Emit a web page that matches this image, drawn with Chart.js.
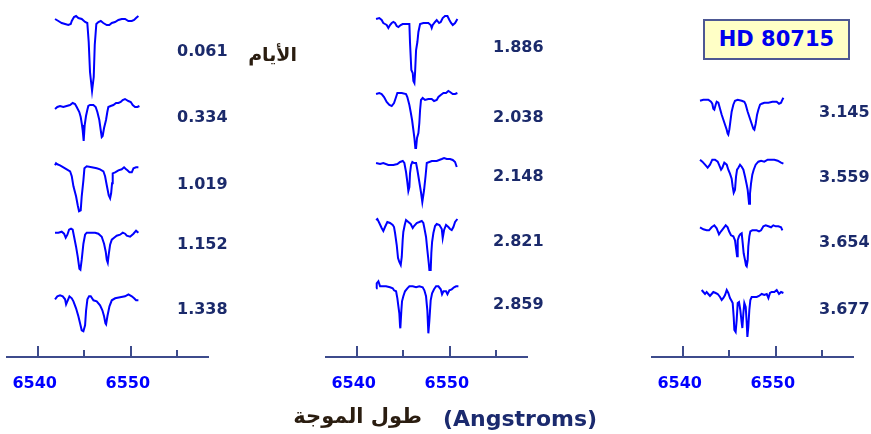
<!DOCTYPE html>
<html>
<head>
<meta charset="utf-8">
<script src="https://cdn.jsdelivr.net/npm/chart.js@4"></script>
<style>
    html, body { margin: 0; padding: 0; background: #fff; }
    #wrap { position: relative; width: 871px; height: 434px; overflow: hidden; }
    canvas { position: absolute; top: 0; }
    #star {
        position: absolute; left: 703px; top: 19px; width: 143px; height: 37px;
        border: 2px solid #4d5893; background: #ffffc6; color: #0000ee;
        font: bold 21px "DejaVu Sans"; text-align: center; line-height: 37px;
    }
    .ar { position: absolute; font-family: "DejaVu Sans"; font-weight: bold; color: #2a1d10; direction: rtl; white-space: nowrap; }
    #days { right: 574px; top: 40px; font-size: 19px; line-height: 28px; }
    #waveAr { right: 449px; top: 402px; font-size: 21px; line-height: 28px; }
    #waveEn { position: absolute; left: 443px; top: 408px; font: bold 22px/22px "DejaVu Sans"; color: #1b2a6e; white-space: nowrap; }
</style>
</head>
<body>
<div id="wrap">
    <canvas id="p1" width="310" height="434" style="left:0px"></canvas>
    <canvas id="p2" width="320" height="434" style="left:310px"></canvas>
    <canvas id="p3" width="241" height="434" style="left:630px"></canvas>
    <div id="star">HD 80715</div>
    <div class="ar" id="days">الأيام</div>
    <div class="ar" id="waveAr">طول الموجة</div>
    <div id="waveEn">(Angstroms)</div>
</div>
<script>
// wavelength (Angstrom), relative flux (continuum = 1)
const s0061 = [[6541.86,1.01],[6542.22,0.99],[6542.58,0.97],[6542.94,0.96],[6543.29,0.95],[6543.55,0.96],[6543.66,0.99],[6543.90,1.03],[6544.12,1.04],[6544.37,1.02],[6544.73,1.01],[6545.09,0.98],[6545.33,0.97],[6545.48,0.78],[6545.62,0.48],[6545.84,0.29],[6546.02,0.43],[6546.13,0.75],[6546.30,0.96],[6546.52,0.98],[6546.78,0.99],[6547.05,0.97],[6547.42,0.95],[6547.70,0.95],[6547.96,0.97],[6548.31,0.98],[6548.67,1.00],[6549.03,1.01],[6549.39,1.01],[6549.74,0.99],[6550.11,0.99],[6550.36,1.00],[6550.57,1.02],[6550.82,1.04]];
const s0334 = [[6541.86,0.97],[6542.11,0.99],[6542.40,1.00],[6542.75,0.99],[6543.11,1.00],[6543.47,1.01],[6543.76,1.03],[6544.01,1.02],[6544.19,0.99],[6544.47,0.94],[6544.62,0.89],[6544.76,0.81],[6544.83,0.76],[6544.94,0.65],[6545.05,0.81],[6545.19,0.90],[6545.33,0.96],[6545.44,1.00],[6545.62,1.01],[6545.98,1.01],[6546.23,0.99],[6546.41,0.94],[6546.62,0.86],[6546.77,0.76],[6546.88,0.69],[6546.98,0.70],[6547.13,0.78],[6547.34,0.86],[6547.48,0.94],[6547.59,0.99],[6547.84,1.00],[6548.13,1.01],[6548.42,1.03],[6548.67,1.03],[6548.92,1.04],[6549.13,1.06],[6549.38,1.07],[6549.74,1.05],[6550.00,1.04],[6550.21,1.01],[6550.46,0.99],[6550.71,0.99],[6550.93,1.00]];
const s1019 = [[6541.86,1.02],[6541.97,1.04],[6542.11,1.03],[6542.40,1.02],[6542.76,1.00],[6543.12,0.98],[6543.48,0.96],[6543.66,0.91],[6543.84,0.81],[6544.12,0.71],[6544.30,0.62],[6544.44,0.56],[6544.62,0.57],[6544.73,0.71],[6544.91,0.87],[6545.02,0.99],[6545.27,1.01],[6545.81,1.00],[6546.34,0.99],[6546.70,0.98],[6547.06,0.96],[6547.24,0.91],[6547.42,0.82],[6547.63,0.72],[6547.78,0.69],[6547.89,0.74],[6547.99,0.84],[6548.06,0.94],[6548.32,0.95],[6548.67,0.97],[6549.03,0.98],[6549.28,1.00],[6549.50,0.98],[6549.64,0.97],[6549.86,0.95],[6550.11,0.95],[6550.29,0.99],[6550.57,1.00],[6550.82,1.00]];
const s1152 = [[6541.86,1.00],[6542.22,1.00],[6542.58,1.01],[6542.83,0.99],[6543.01,0.95],[6543.19,0.98],[6543.37,1.03],[6543.58,1.04],[6543.76,1.03],[6543.91,0.96],[6544.12,0.86],[6544.30,0.76],[6544.48,0.64],[6544.59,0.63],[6544.73,0.73],[6544.91,0.89],[6545.09,0.98],[6545.27,1.00],[6545.63,1.00],[6546.17,1.00],[6546.52,0.99],[6546.88,0.96],[6547.13,0.89],[6547.31,0.81],[6547.42,0.73],[6547.53,0.70],[6547.63,0.78],[6547.78,0.88],[6547.96,0.93],[6548.21,0.95],[6548.49,0.97],[6548.85,0.98],[6549.14,1.00],[6549.39,0.99],[6549.57,0.97],[6549.93,0.96],[6550.29,0.99],[6550.57,1.02],[6550.82,1.00]];
const s1338 = [[6541.86,0.99],[6542.11,1.02],[6542.40,1.03],[6542.69,1.02],[6542.94,0.99],[6543.05,0.94],[6543.23,0.98],[6543.41,1.02],[6543.66,1.00],[6543.84,0.97],[6544.12,0.90],[6544.37,0.82],[6544.55,0.75],[6544.73,0.68],[6544.91,0.67],[6545.09,0.73],[6545.20,0.88],[6545.34,0.99],[6545.52,1.02],[6545.70,1.02],[6545.99,0.98],[6546.34,0.97],[6546.70,0.93],[6546.95,0.88],[6547.13,0.82],[6547.28,0.75],[6547.35,0.74],[6547.49,0.82],[6547.71,0.92],[6547.96,0.98],[6548.32,1.00],[6548.85,1.01],[6549.39,1.02],[6549.75,1.04],[6550.11,1.02],[6550.36,1.00],[6550.57,0.98],[6550.82,0.98]];

const s1886 = [[6542.08,1.05],[6542.43,1.06],[6542.68,1.04],[6542.86,1.01],[6543.04,1.00],[6543.22,0.99],[6543.40,0.96],[6543.58,0.99],[6543.76,1.01],[6543.94,1.02],[6544.12,1.01],[6544.30,0.98],[6544.48,0.97],[6544.73,0.99],[6544.94,1.00],[6545.37,1.00],[6545.66,1.00],[6545.73,0.81],[6545.87,0.54],[6546.02,0.51],[6546.09,0.43],[6546.20,0.41],[6546.27,0.51],[6546.38,0.74],[6546.52,0.82],[6546.63,0.92],[6546.81,1.00],[6547.16,1.01],[6547.70,1.01],[6547.95,0.99],[6548.06,0.96],[6548.17,0.99],[6548.42,1.02],[6548.60,1.04],[6548.85,1.01],[6549.03,1.02],[6549.24,1.06],[6549.49,1.08],[6549.75,1.08],[6549.96,1.04],[6550.14,1.01],[6550.32,0.99],[6550.57,1.01],[6550.82,1.05]];
const s2038 = [[6542.08,1.00],[6542.43,1.01],[6542.68,1.00],[6542.94,0.97],[6543.22,0.92],[6543.51,0.89],[6543.76,0.88],[6544.01,0.91],[6544.23,0.97],[6544.37,1.01],[6544.84,1.01],[6545.30,1.00],[6545.44,0.97],[6545.66,0.89],[6545.80,0.82],[6545.95,0.74],[6546.09,0.64],[6546.20,0.56],[6546.30,0.46],[6546.38,0.46],[6546.48,0.56],[6546.63,0.61],[6546.73,0.71],[6546.81,0.84],[6546.91,0.94],[6547.09,0.96],[6547.34,0.94],[6547.70,0.95],[6548.06,0.95],[6548.31,0.93],[6548.60,0.94],[6548.78,0.97],[6549.03,0.99],[6549.32,1.01],[6549.60,1.01],[6549.85,1.03],[6550.03,1.02],[6550.32,1.00],[6550.57,1.00],[6550.82,1.01]];
const s2148 = [[6542.08,1.00],[6542.51,0.99],[6542.86,1.00],[6543.40,0.98],[6543.94,0.98],[6544.37,0.99],[6544.66,1.01],[6544.95,1.02],[6545.12,1.00],[6545.30,0.91],[6545.44,0.81],[6545.55,0.72],[6545.66,0.76],[6545.73,0.90],[6545.84,0.98],[6545.98,1.01],[6546.16,1.00],[6546.38,1.00],[6546.52,0.93],[6546.73,0.81],[6546.92,0.70],[6547.05,0.61],[6547.24,0.73],[6547.40,0.87],[6547.53,1.00],[6548.07,1.02],[6548.60,1.02],[6549.14,1.04],[6549.39,1.05],[6549.68,1.04],[6550.03,1.04],[6550.32,1.03],[6550.57,1.01],[6550.75,0.96]];
const s2821 = [[6542.08,1.04],[6542.22,1.05],[6542.43,1.01],[6542.68,0.96],[6542.86,0.93],[6543.04,0.97],[6543.29,1.02],[6543.58,1.01],[6543.87,0.99],[6544.01,0.97],[6544.12,0.91],[6544.30,0.79],[6544.44,0.66],[6544.58,0.62],[6544.73,0.59],[6544.84,0.67],[6544.94,0.84],[6545.01,0.92],[6545.16,0.99],[6545.30,1.04],[6545.55,1.02],[6545.80,1.00],[6546.02,0.96],[6546.16,0.98],[6546.45,1.01],[6546.73,1.02],[6546.99,1.03],[6547.16,1.01],[6547.27,0.96],[6547.45,0.87],[6547.59,0.74],[6547.74,0.61],[6547.81,0.54],[6547.95,0.54],[6548.02,0.71],[6548.10,0.82],[6548.24,0.91],[6548.42,0.98],[6548.60,1.00],[6548.89,0.99],[6549.14,0.95],[6549.24,0.86],[6549.39,0.94],[6549.60,0.99],[6549.85,0.97],[6550.03,0.95],[6550.21,0.94],[6550.39,0.97],[6550.57,1.02],[6550.82,1.05]];
const s2859 = [[6542.08,0.99],[6542.15,1.04],[6542.33,1.06],[6542.51,1.01],[6542.79,1.01],[6543.15,1.01],[6543.58,1.00],[6543.87,0.99],[6544.01,0.97],[6544.23,0.96],[6544.37,0.89],[6544.48,0.81],[6544.58,0.74],[6544.66,0.61],[6544.69,0.59],[6544.80,0.77],[6544.87,0.86],[6545.01,0.91],[6545.19,0.96],[6545.44,0.99],[6545.66,1.01],[6546.02,1.01],[6546.38,1.00],[6546.73,1.01],[6547.09,1.00],[6547.27,0.97],[6547.45,0.91],[6547.59,0.77],[6547.70,0.54],[6547.81,0.67],[6547.95,0.87],[6548.10,0.94],[6548.31,0.98],[6548.53,1.01],[6548.78,1.01],[6549.03,0.98],[6549.17,0.93],[6549.32,0.96],[6549.60,0.96],[6549.75,0.93],[6549.96,0.97],[6550.21,0.98],[6550.46,1.00],[6550.68,1.01],[6550.93,1.01]];

const s3145 = [[6541.86,1.01],[6542.22,1.02],[6542.75,1.02],[6543.04,1.00],[6543.18,0.98],[6543.29,0.93],[6543.40,0.92],[6543.54,0.97],[6543.65,1.00],[6543.83,0.99],[6544.01,0.93],[6544.19,0.87],[6544.37,0.82],[6544.55,0.77],[6544.73,0.72],[6544.83,0.68],[6544.90,0.67],[6545.01,0.72],[6545.12,0.80],[6545.26,0.90],[6545.44,0.97],[6545.62,1.01],[6545.91,1.02],[6546.34,1.01],[6546.62,1.00],[6546.77,0.97],[6546.98,0.90],[6547.23,0.83],[6547.41,0.78],[6547.59,0.73],[6547.70,0.72],[6547.84,0.78],[6547.99,0.87],[6548.13,0.92],[6548.31,0.97],[6548.49,0.98],[6548.77,0.99],[6549.21,0.99],[6549.64,1.00],[6550.10,1.00],[6550.35,0.98],[6550.57,0.99],[6550.71,1.02],[6550.82,1.04]];
const s3559 = [[6541.86,1.02],[6542.11,1.00],[6542.40,0.97],[6542.68,0.94],[6542.93,0.97],[6543.18,1.02],[6543.47,1.02],[6543.76,1.00],[6543.90,0.97],[6544.12,0.92],[6544.26,0.94],[6544.47,0.99],[6544.73,0.97],[6544.90,0.92],[6545.08,0.88],[6545.26,0.83],[6545.37,0.75],[6545.48,0.69],[6545.62,0.72],[6545.73,0.85],[6545.84,0.92],[6545.98,0.94],[6546.16,0.97],[6546.34,0.95],[6546.52,0.92],[6546.70,0.85],[6546.88,0.77],[6546.98,0.72],[6547.13,0.58],[6547.23,0.68],[6547.34,0.78],[6547.48,0.87],[6547.63,0.92],[6547.84,0.97],[6548.13,1.00],[6548.42,1.01],[6548.77,1.00],[6549.13,1.02],[6549.49,1.02],[6549.85,1.02],[6550.21,1.01],[6550.57,0.99],[6550.82,0.98]];
const s3654 = [[6541.86,1.02],[6542.22,1.00],[6542.57,0.99],[6542.83,0.99],[6543.11,1.02],[6543.40,1.04],[6543.65,1.01],[6543.90,0.95],[6544.12,0.98],[6544.37,1.01],[6544.62,1.04],[6544.83,1.02],[6544.98,0.98],[6545.19,0.94],[6545.44,0.93],[6545.62,0.89],[6545.76,0.79],[6545.84,0.73],[6545.91,0.89],[6546.05,0.93],[6546.19,0.95],[6546.34,0.96],[6546.45,0.86],[6546.55,0.76],[6546.70,0.69],[6546.80,0.64],[6546.88,0.63],[6546.98,0.69],[6547.05,0.83],[6547.16,0.93],[6547.27,0.98],[6547.48,0.99],[6547.95,0.99],[6548.20,0.98],[6548.42,0.99],[6548.67,1.03],[6548.92,1.04],[6549.21,1.03],[6549.49,1.02],[6549.74,1.04],[6550.00,1.03],[6550.28,1.03],[6550.57,1.02],[6550.71,0.99]];
const s3677 = [[6542.04,1.04],[6542.22,1.02],[6542.40,1.00],[6542.57,1.02],[6542.75,1.00],[6542.93,0.98],[6543.11,1.00],[6543.29,1.02],[6543.54,1.01],[6543.76,1.00],[6544.01,0.97],[6544.19,0.94],[6544.37,0.96],[6544.55,0.99],[6544.73,1.04],[6544.90,1.01],[6545.08,0.96],[6545.26,0.93],[6545.37,0.91],[6545.48,0.77],[6545.55,0.64],[6545.69,0.62],[6545.80,0.74],[6545.91,0.91],[6546.05,0.92],[6546.19,0.84],[6546.34,0.71],[6546.41,0.66],[6546.52,0.81],[6546.62,0.91],[6546.77,0.87],[6546.88,0.71],[6546.95,0.57],[6547.05,0.67],[6547.16,0.84],[6547.27,0.94],[6547.41,0.97],[6547.70,0.97],[6547.95,0.97],[6548.20,0.98],[6548.49,1.00],[6548.77,0.99],[6549.03,1.00],[6549.21,0.96],[6549.38,1.01],[6549.56,1.02],[6549.85,1.02],[6550.10,1.04],[6550.35,1.00],[6550.57,1.02],[6550.82,1.01]];

// which spectra go in each column, and their day labels
const days1 = ['0.061', '0.334', '1.019', '1.152', '1.338'];
const days2 = ['1.886', '2.038', '2.148', '2.821', '2.859'];
const days3 = ['3.145', '3.559', '3.654', '3.677'];
const spectra1 = [s0061, s0334, s1019, s1152, s1338];
const spectra2 = [s1886, s2038, s2148, s2821, s2859];
const spectra3 = [s3145, s3559, s3654, s3677];

// x axis range and tick step (Angstrom)
const waveMin = 6536.7;
const waveMax = 6558.3;
const waveStep = 5;

// layout: y of each spectrum's continuum and of its label, in px from the top
const CANVAS_H = 434;
const AXIS_Y = 357;
const FLUX_PX = 100;   // 1.0 in flux = 100 px
const base1 = [20, 106, 167.3, 232.7, 298.3];
const base2 = [24, 94, 163, 224, 287.3];
const base3 = [101.7, 161.7, 229.3, 294];
const labY1 = [52, 118, 185, 245, 310];
const labY2 = [48, 118, 177, 242, 305];
const labY3 = [113, 178, 243, 310];

const AXIS_COLOR = '#3d4b8c';
const LINE_COLOR = '#0000ff';

// ticks pointing up from the axis line
const upTicks = {
    id: 'upTicks',
    afterDraw(chart) {
        const xs = chart.scales.x;
        const ctx = chart.ctx;
        ctx.save();
        ctx.strokeStyle = AXIS_COLOR;
        ctx.lineWidth = 2;
        xs.ticks.forEach(t => {
            const px = Math.round(xs.getPixelForValue(t.value));
            const len = t.value % 10 === 0 ? 11 : 7;
            ctx.beginPath();
            ctx.moveTo(px, xs.top);
            ctx.lineTo(px, xs.top - len);
            ctx.stroke();
        });
        ctx.restore();
    }
};

function dayLabels(days, labY, x) {
    return {
        id: 'dayLabels',
        afterDatasetsDraw(chart) {
            const ctx = chart.ctx;
            const ys = chart.scales.y;
            ctx.save();
            ctx.font = 'bold 16px "DejaVu Sans"';
            ctx.fillStyle = '#1b2a6b';
            ctx.textAlign = 'left';
            ctx.textBaseline = 'middle';
            days.forEach((d, i) => ctx.fillText(d, x, ys.getPixelForValue(labY[i])));
            ctx.restore();
        }
    };
}

function makePanel(id, spectra, days, base, labY, labX, padLeft, padRight) {
    const datasets = spectra.map((s, i) => ({
        label: days[i],
        data: s.map(p => ({ x: p[0], y: base[i] + (1 - p[1]) * FLUX_PX })),
        borderColor: LINE_COLOR,
        borderWidth: 2,
        pointRadius: 0,
        tension: 0,
        fill: false
    }));

    return new Chart(document.getElementById(id), {
        type: 'line',
        data: { datasets: datasets },
        options: {
            responsive: false,
            animation: false,
            layout: { padding: { left: padLeft, right: padRight, top: 0, bottom: 0 } },
            plugins: { legend: { display: false }, tooltip: { enabled: false } },
            scales: {
                x: {
                    type: 'linear',
                    min: waveMin,
                    max: waveMax,
                    grid: { display: false, drawTicks: false },
                    border: { display: true, color: AXIS_COLOR, width: 2 },
                    ticks: {
                        stepSize: waveStep,
                        includeBounds: false,
                        autoSkip: false,
                        maxRotation: 0,
                        padding: 17,
                        labelOffset: -3,
                        color: '#0000ff',
                        font: { family: 'DejaVu Sans', weight: 'bold', size: 16 },
                        callback: v => (v % 10 === 0 ? String(v) : '')
                    },
                    afterFit: s => {
                        s.height = CANVAS_H - AXIS_Y;
                        s.paddingLeft = 0;
                        s.paddingRight = 0;
                    }
                },
                y: { display: false, min: 0, max: AXIS_Y, reverse: true }
            }
        },
        plugins: [upTicks, dayLabels(days, labY, labX)]
    });
}

makePanel('p1', spectra1, days1, base1, labY1, 177, 7, 102);
makePanel('p2', spectra2, days2, base2, labY2, 183, 16, 103);
makePanel('p3', spectra3, days3, base3, labY3, 189, 22, 18);
</script>
</body>
</html>
